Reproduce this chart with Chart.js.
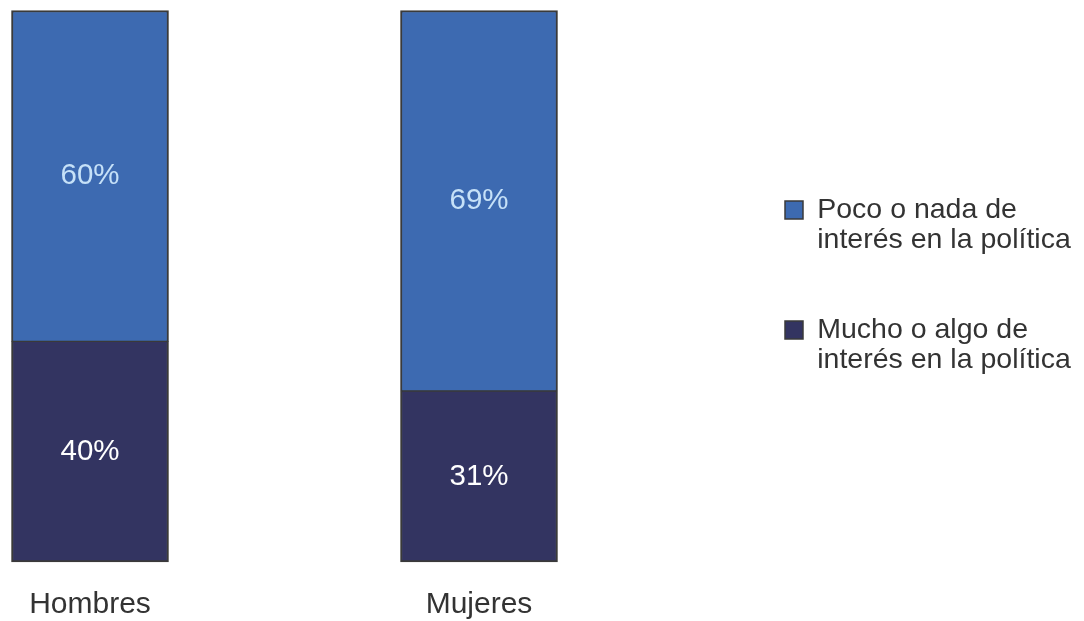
<!DOCTYPE html>
<html>
<head>
<meta charset="utf-8">
<script src="https://cdn.jsdelivr.net/npm/chart.js@4/dist/chart.umd.min.js"></script>
<style>
  html, body { margin: 0; padding: 0; background: #ffffff; }
  #wrap { width: 1084px; height: 621px; }
</style>
</head>
<body>
<div id="wrap"><canvas id="c" width="1084" height="621"></canvas></div>
<script>
const categories = ['Hombres', 'Mujeres'];
const muchoValues = [40, 31];
const pocoValues = [60, 69];
const seriesNames = ['Mucho o algo de interés en la política', 'Poco o nada de interés en la política'];
const legendLines = [
  ['Mucho o algo de', 'interés en la política'],
  ['Poco o nada de', 'interés en la política']
];

const FONT = '"Liberation Sans", Arial, Helvetica, sans-serif';
const TEXT = '#333333';
const labelColors = ['#FFFFFF', '#C6E1F8'];

const valueLabels = {
  id: 'valueLabels',
  afterDatasetsDraw(chart) {
    const ctx = chart.ctx;
    ctx.save();
    ctx.font = '29.5px ' + FONT;
    ctx.textAlign = 'center';
    ctx.textBaseline = 'middle';
    chart.data.datasets.forEach((ds, di) => {
      const meta = chart.getDatasetMeta(di);
      meta.data.forEach((el, i) => {
        const p = el.getProps(['x', 'y', 'base'], true);
        ctx.fillStyle = labelColors[di];
        ctx.fillText(ds.data[i] + '%', p.x, (p.y + p.base) / 2);
      });
    });
    ctx.restore();
  }
};

new Chart(document.getElementById('c'), {
  type: 'bar',
  data: {
    labels: categories,
    datasets: [
      {
        label: seriesNames[0],
        data: muchoValues,
        backgroundColor: '#333461',
        borderColor: '#3A3A3A',
        borderWidth: { left: 2, right: 2, bottom: 2, top: 1 },
        borderSkipped: false,
        barThickness: 157,
        clip: false
      },
      {
        label: seriesNames[1],
        data: pocoValues,
        backgroundColor: '#3D6AB1',
        borderColor: '#3A3A3A',
        borderWidth: { left: 2, right: 2, top: 2, bottom: 1 },
        borderSkipped: false,
        barThickness: 157,
        clip: false
      }
    ]
  },
  options: {
    responsive: false,
    devicePixelRatio: 1,
    animation: false,
    layout: { padding: { left: 90, right: 8, top: 10.5, bottom: 0 } },
    scales: {
      x: {
        stacked: true,
        offset: false,
        grid: { display: false, drawTicks: false },
        border: { display: false },
        ticks: { color: TEXT, font: { family: FONT, size: 30 }, padding: 25, maxRotation: 0, autoSkip: false },
        afterFit(scale) { scale.height = 59; }
      },
      y: {
        stacked: true,
        display: false,
        position: 'right',
        min: 0,
        max: 100,
        afterFit(scale) { scale.width = 247; }
      }
    },
    plugins: {
      tooltip: { enabled: false },
      legend: {
        position: 'right',
        fullSize: false,
        reverse: true,
        maxWidth: 350,
        labels: {
          color: TEXT,
          font: { family: FONT, size: 28.5, lineHeight: 1.07 },
          boxWidth: 18,
          boxHeight: 18,
          padding: 59,
          generateLabels(chart) {
            const base = Chart.defaults.plugins.legend.labels.generateLabels(chart);
            return base.map(item => Object.assign({}, item, { text: legendLines[item.datasetIndex], lineWidth: 1.5 }));
          }
        }
      }
    }
  },
  plugins: [valueLabels]
});
</script>
</body>
</html>
